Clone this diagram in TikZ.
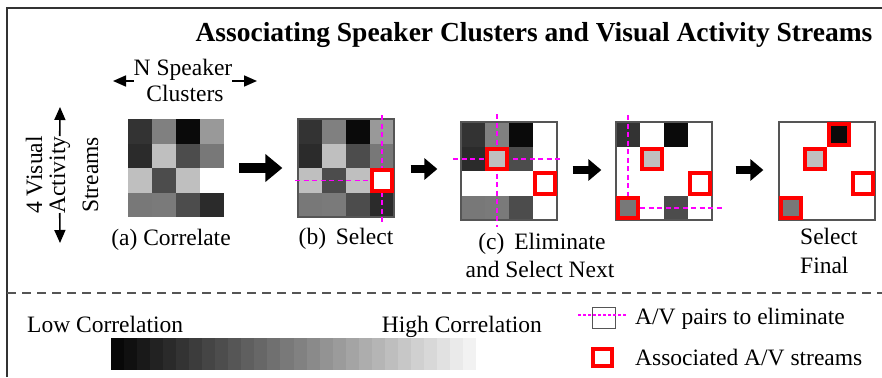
\documentclass[tikz,border=0pt]{standalone}
\usepackage{fontspec}
\setmainfont{Liberation Serif}
\usetikzlibrary{arrows.meta}
\definecolor{framegray}{HTML}{333333}
\definecolor{bordergray}{HTML}{555555}
\definecolor{elimmag}{HTML}{FF00FF}
\definecolor{selred}{HTML}{FF0000}
\newcommand\avcell[5]{\fill[white!#5!black] ({#1+(#3-1)*24},{#2+(#4-1)*24.5}) rectangle ++(24,24.5);}
\newcommand\avsel[5]{\draw[selbox, fill=white!#5!black] ({#1+(#3-1)*24+2},{#2+(#4-1)*24.5+2}) rectangle ++(20,20.5);}
\begin{document}
\begin{tikzpicture}[x=1pt,y=-1pt,
  lbl/.style={font=\fontsize{23.5}{26}\selectfont, inner sep=0pt},
  ttl/.style={font=\fontsize{27.5}{30}\selectfont\bfseries, inner sep=0pt},
  matbox/.style={draw=bordergray, line width=1.3pt, minimum width=96pt, minimum height=98pt, inner sep=0pt},
  matplain/.style={minimum width=96pt, minimum height=98pt, inner sep=0pt},
  selbox/.style={draw=selred, line width=4pt},
  elim/.style={draw=elimmag, line width=1.5pt, dash pattern=on 5pt off 3.5pt},
  bigarrow/.style={line width=10pt, -{Triangle[length=17pt,width=27pt]}},
  medarrow/.style={line width=8.5pt, -{Triangle[length=13pt,width=21pt]}},
  dimarrow/.style={line width=1.6pt, -{Triangle[length=13pt,width=11pt]}},
  frameline/.style={draw=framegray, line width=1.8pt},
  sepline/.style={draw=bordergray, line width=2pt, dash pattern=on 9pt off 6pt}
]
\useasboundingbox (0,0) rectangle (882,377);
\fill[white] (0,0) rectangle (882,377);

% frame and separator
\draw[frameline] (7,377) -- (7,8) -- (882,8);
\draw[sepline] (7,293) -- (882,293);

% title
\node[ttl, anchor=base] (title) at (534,42) {Associating Speaker Clusters and Visual Activity Streams};

% ---------- matrix (a) ----------
\foreach \c/\r/\v in {1/1/20,2/1/50,3/1/4,4/1/60,
                      1/2/17,2/2/75,3/2/30,4/2/47,
                      1/3/75,2/3/30,3/3/75,
                      1/4/47,2/4/48,3/4/30,4/4/17}{\avcell{128}{119}{\c}{\r}{\v}}
\node[matplain] (ma) at (176,168) {};

% ---------- matrix (b) ----------
\foreach \c/\r/\v in {1/1/20,2/1/50,3/1/4,4/1/60,
                      1/2/17,2/2/75,3/2/30,4/2/47,
                      1/3/75,2/3/30,3/3/75,
                      1/4/47,2/4/48,3/4/30,4/4/17}{\avcell{298}{119}{\c}{\r}{\v}}
\node[matbox] (mb) at (346,168) {};
\coordinate (bv1) at (382,115);
\coordinate (bv2) at (382,223);
\coordinate (bh1) at (295,180.25);
\coordinate (bh2) at (372,180.25);
\draw[elim] (bv1) -- (bv2);
\draw[elim] (bh1) -- (bh2);
\avsel{298}{119}{4}{3}{100}

% ---------- matrix (c) ----------
\foreach \c/\r/\v in {1/1/20,2/1/50,3/1/4,
                      1/2/17,2/2/75,3/2/30,
                      1/4/47,2/4/48,3/4/30}{\avcell{461}{122}{\c}{\r}{\v}}
\node[matbox] (mc) at (509,171) {};
\coordinate (cv1) at (497,114);
\coordinate (cv2) at (497,227);
\coordinate (ch1) at (453,158.75);
\coordinate (ch2) at (563,158.75);
\draw[elim] (cv1) -- (cv2);
\draw[elim] (ch1) -- (ch2);
\avsel{461}{122}{2}{2}{75}
\avsel{461}{122}{4}{3}{100}

% ---------- matrix (d) ----------
\foreach \c/\r/\v in {1/1/20,3/1/4,3/4/30}{\avcell{616}{122}{\c}{\r}{\v}}
\node[matbox] (md) at (664,171) {};
\coordinate (dv1) at (628,115);
\coordinate (dv2) at (628,198);
\coordinate (dh1) at (640,207.75);
\coordinate (dh2) at (722,207.75);
\draw[elim] (dv1) -- (dv2);
\draw[elim] (dh1) -- (dh2);
\avsel{616}{122}{2}{2}{75}
\avsel{616}{122}{4}{3}{100}
\avsel{616}{122}{1}{4}{47}

% ---------- matrix (e) ----------
\node[matbox] (me) at (827,171) {};
\avsel{779}{122}{3}{1}{4}
\avsel{779}{122}{2}{2}{75}
\avsel{779}{122}{4}{3}{100}
\avsel{779}{122}{1}{4}{47}

% ---------- step arrows ----------
\draw[bigarrow] ([xshift=15pt]ma.east) -- ([xshift=-15pt]mb.west);
\draw[medarrow] ([xshift=16pt,yshift=-1pt]mb.east) -- ([xshift=-23pt,yshift=2pt]mc.west);
\draw[medarrow] ([xshift=15pt,yshift=1pt]mc.east) -- ([xshift=-14pt,yshift=1pt]md.west);
\draw[medarrow] ([xshift=23pt,yshift=1pt]md.east) -- ([xshift=-15pt,yshift=1pt]me.west);

% ---------- step captions ----------
\node[lbl, anchor=base] (capa) at (171,245) {(a) Correlate};
\node[lbl, anchor=base] (capb) at (346,244) {(b)\, Select};
\node[lbl, anchor=base] (capc1) at (542,249) {(c)\, Eliminate};
\node[lbl, anchor=base] (capc2) at (540,277) {and Select Next};
\node[lbl, anchor=base west] (cape1) at (800,244) {Select};
\node[lbl, anchor=base west] (cape2) at (800,273) {Final};

% ---------- axis labels ----------
\node[lbl, anchor=base] (nsp1) at (183,75.5) {N Speaker};
\node[lbl, anchor=base] (nsp2) at (185,101.5) {Clusters};
\coordinate (nl) at (113,81);
\coordinate (nr) at (257,81);
\draw[dimarrow] (nsp1.west |- nl) -- (nl);
\draw[dimarrow] (nsp1.east |- nr) -- (nr);

\node[lbl, anchor=base, rotate=90] (vis1) at (42,175) {4 Visual};
\node[lbl, anchor=base, rotate=90] (vis2) at (65,175) {Activity};
\node[lbl, anchor=base, rotate=90] (vis3) at (98,175) {Streams};
\coordinate (vu) at (60,107);
\coordinate (vd) at (60,243);
\draw[dimarrow] (vis2.east |- 0,136) -- (vu);
\draw[dimarrow] (vis2.west |- 0,213) -- (vd);

% ---------- legend ----------
\node[lbl, anchor=base west] (low) at (27,332) {Low Correlation};
\node[lbl, anchor=base east] (high) at (542,332) {High Correlation};
\foreach \i in {0,...,27}{
  \pgfmathsetmacro{\lev}{3+\i*92/27}
  \fill[white!\lev!black] ({111+\i*365/28},338) rectangle ({111+(\i+1)*365/28+0.3},370);
}
\node[draw=bordergray, line width=0.8pt, minimum width=23pt, minimum height=21pt, inner sep=0pt] (legbox) at (603.5,317.5) {};
\coordinate (legm1) at (578,315);
\coordinate (legm2) at (627,315);
\draw[elim, line width=1.3pt, dash pattern=on 3pt off 2pt] (legm1) -- (legm2);
\node[lbl, anchor=base west] (legt1) at (635,324) {A/V pairs to eliminate};
\node[draw=selred, line width=3.5pt, minimum width=19pt, minimum height=17pt, inner sep=0pt] (legred) at (602.5,357.5) {};
\node[lbl, anchor=base west] (legt2) at (635,365) {Associated A/V streams};
\end{tikzpicture}
\end{document}
